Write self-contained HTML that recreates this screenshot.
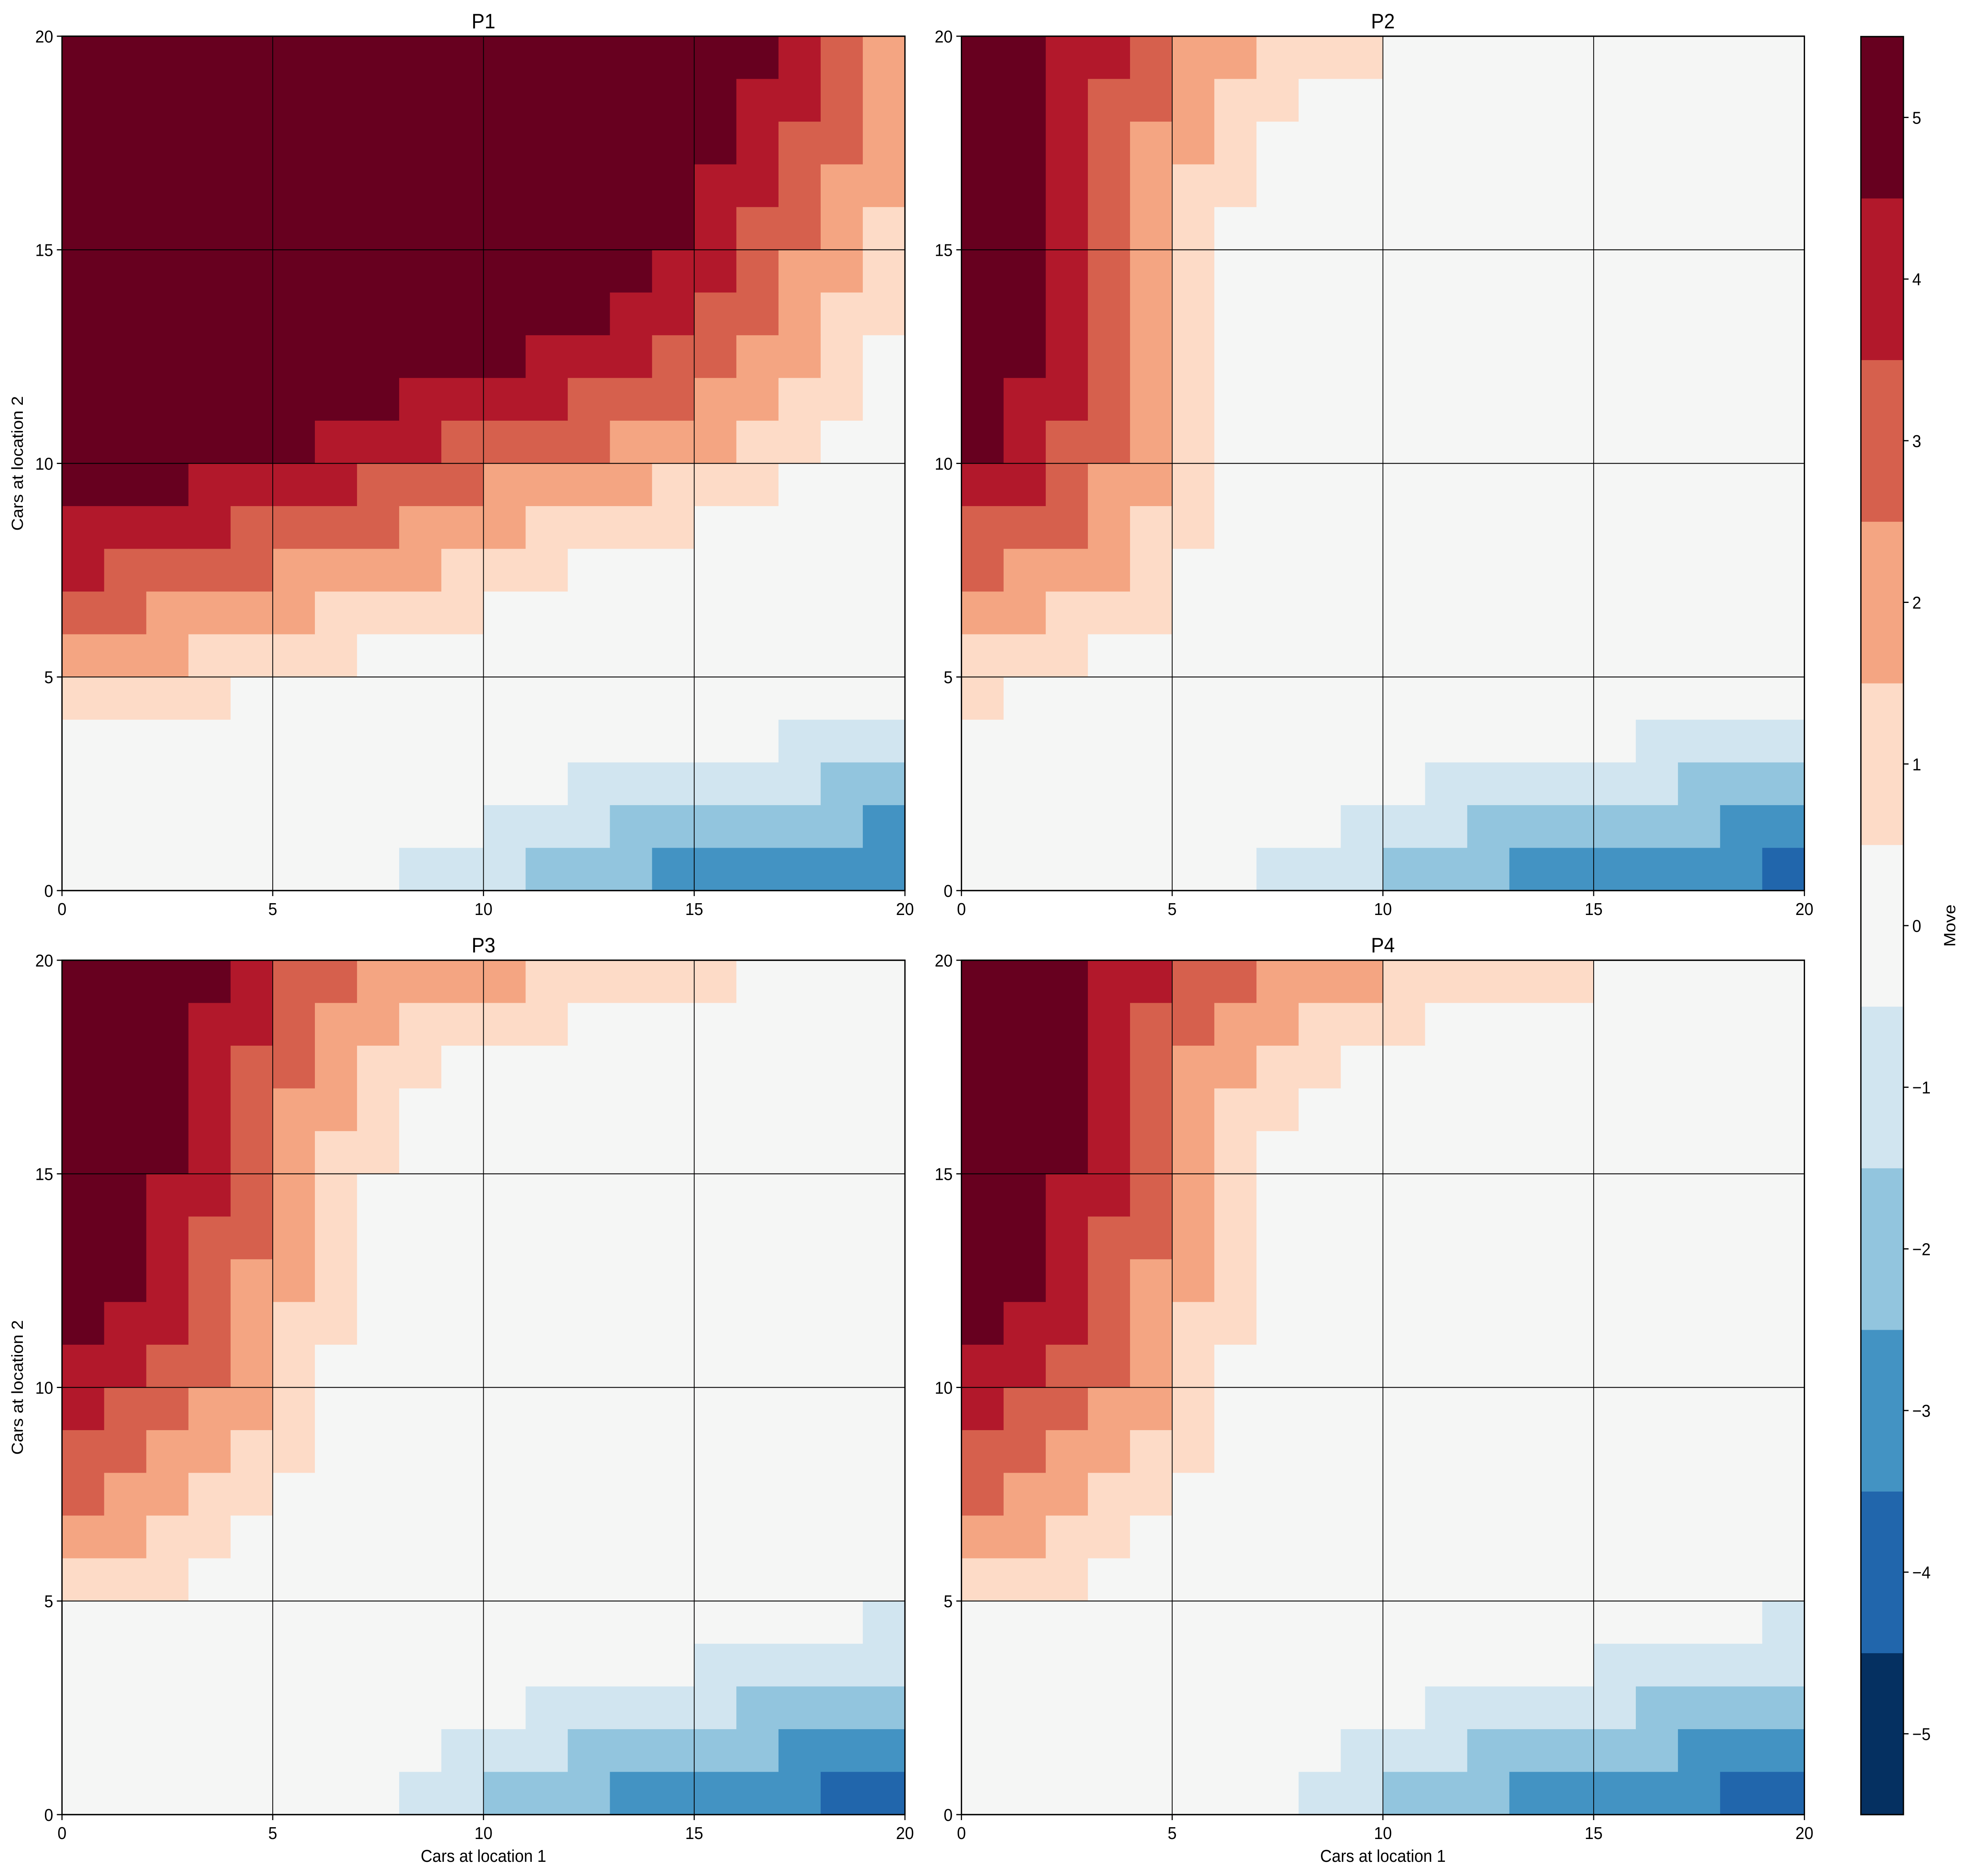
<!DOCTYPE html>
<html>
<head>
<meta charset="utf-8">
<style>
html,body{margin:0;padding:0;background:#fff;width:100%;height:100%;overflow:hidden;}
svg{display:block;position:fixed;left:0;top:0;width:100vw;height:100vh;font-family:"Liberation Sans","DejaVu Sans",sans-serif;}
</style>
</head>
<body>
<svg id="fig" viewBox="0 0 5365 4767" preserveAspectRatio="none" xmlns="http://www.w3.org/2000/svg"></svg>
<script>
// ---- data (rows listed from top y=19 down to y=0; "v*n" = value v repeated n times) ----
const panelTitles = ["P1","P2","P3","P4"];
const xTicks = [0,5,10,15,20];
const yTicks = [0,5,10,15,20];
const cbTicks = [-5,-4,-3,-2,-1,0,1,2,3,4,5];
const p1Rows = [
"5*17,4,3,2","5*16,4*2,3,2","5*16,4,3*2,2","5*15,4*2,3,2*2","5*15,4,3*2,2,1",
"5*14,4*2,3,2*2,1","5*13,4*2,3*2,2,1*2","5*11,4*3,3*2,2*2,1,0","5*8,4*4,3*3,2*2,1*2,0","5*6,4*3,3*4,2*3,1*2,0*2",
"5*3,4*4,3*3,2*4,1*3,0*3","4*4,3*4,2*3,1*4,0*5","4,3*4,2*4,1*3,0*8","3*2,2*4,1*4,0*10","2*3,1*4,0*13",
"1*4,0*16","0*17,-1*3","0*12,-1*6,-2*2","0*10,-1*3,-2*6,-3","0*8,-1*3,-2*3,-3*6"];
const p2Rows = [
"5*2,4*2,3,2*2,1*3,0*10","5*2,4,3*2,2,1*2,0*12","5*2,4,3,2*2,1,0*13","5*2,4,3,2,1*2,0*13","5*2,4,3,2,1,0*14",
"5*2,4,3,2,1,0*14","5*2,4,3,2,1,0*14","5*2,4,3,2,1,0*14","5,4*2,3,2,1,0*14","5,4,3*2,2,1,0*14",
"4*2,3,2*2,1,0*14","3*3,2,1*2,0*14","3,2*3,1,0*15","2*2,1*3,0*15","1*3,0*17",
"1,0*19","0*16,-1*4","0*11,-1*6,-2*3","0*9,-1*3,-2*6,-3*2","0*7,-1*3,-2*3,-3*6,-4"];
const p3Rows = [
"5*4,4,3*2,2*4,1*5,0*4","5*3,4*2,3,2*2,1*4,0*8","5*3,4,3*2,2,1*2,0*11","5*3,4,3,2*2,1,0*12","5*3,4,3,2,1*2,0*12",
"5*2,4*2,3,2,1,0*13","5*2,4,3*2,2,1,0*13","5*2,4,3,2*2,1,0*13","5,4*2,3,2,1*2,0*13","4*2,3*2,2,1,0*14",
"4,3*2,2*2,1,0*14","3*2,2*2,1*2,0*14","3,2*2,1*2,0*15","2*2,1*2,0*16","1*3,0*17",
"0*19,-1","0*15,-1*5","0*11,-1*5,-2*4","0*9,-1*3,-2*5,-3*3","0*8,-1*2,-2*3,-3*5,-4*2"];
const p4Rows = [
"5*3,4*2,3*2,2*3,1*5,0*5","5*3,4,3*2,2*2,1*3,0*9","5*3,4,3,2*2,1*2,0*11","5*3,4,3,2,1*2,0*12","5*3,4,3,2,1,0*13",
"5*2,4*2,3,2,1,0*13","5*2,4,3*2,2,1,0*13","5*2,4,3,2*2,1,0*13","5,4*2,3,2,1*2,0*13","4*2,3*2,2,1,0*14",
"4,3*2,2*2,1,0*14","3*2,2*2,1*2,0*14","3,2*2,1*2,0*15","2*2,1*2,0*16","1*3,0*17",
"0*19,-1","0*15,-1*5","0*11,-1*5,-2*4","0*9,-1*3,-2*5,-3*3","0*8,-1*2,-2*3,-3*5,-4*2"];
const allRows = [p1Rows,p2Rows,p3Rows,p4Rows];

// ---- styling / layout ----
const colors = {"-5":"#053061","-4":"#2166ac","-3":"#4393c3","-2":"#92c5de","-1":"#d1e5f0","0":"#f5f6f5","1":"#fddbc7","2":"#f4a582","3":"#d6604d","4":"#b2182b","5":"#67001f"};
const panels = [
  {x0:169,x1:2467,y0:92,y1:2263},
  {x0:2621,x1:4919,y0:92,y1:2263},
  {x0:169,x1:2467,y0:2440,y1:4611},
  {x0:2621,x1:4919,y0:2440,y1:4611}];
const NS="http://www.w3.org/2000/svg";
const svg=document.getElementById('fig');
function mk(tag,attrs,parent){const e=document.createElementNS(NS,tag);for(const k in attrs)e.setAttribute(k,attrs[k]);(parent||svg).appendChild(e);return e;}
function parseRow(s){const out=[];s.split(',').forEach(t=>{const p=t.split('*');const v=+p[0];const n=p.length>1?+p[1]:1;for(let i=0;i<n;i++)out.push(v);});return out;}
function fmt(v){return v<0?'\u2212'+Math.abs(v):String(v);}

panels.forEach((P,pi)=>{
  const g=mk('g',{});
  
  
  const sx=v=>P.x0+(P.x1-P.x0)*v/20;
  const sy=v=>P.y1-(P.y1-P.y0)*v/20;
  const rows=allRows[pi];
  rows.forEach((rs,ri)=>{
    const yIdx=19-ri;
    const vals=parseRow(rs);
    vals.forEach((v,xi)=>{
      const r=mk('rect',{x:sx(xi),y:sy(yIdx+1),width:sx(xi+1)-sx(xi)+0.6,height:sy(yIdx)-sy(yIdx+1)+0.6,fill:colors[String(v)]},g);
      
      
    });
  });
  [5,10,15].forEach(t=>{
    const l1=mk('line',{x1:sx(t),x2:sx(t),y1:P.y0,y2:P.y1,stroke:'#000','stroke-width':2.2},g);
    
    
    const l2=mk('line',{x1:P.x0,x2:P.x1,y1:sy(t),y2:sy(t),stroke:'#000','stroke-width':2.2},g);
    
    
  });
  const fr=mk('rect',{x:P.x0,y:P.y0,width:P.x1-P.x0,height:P.y1-P.y0,fill:'none',stroke:'#000','stroke-width':3.5},g);
  
  
  xTicks.forEach(t=>{
    mk('line',{x1:sx(t),x2:sx(t),y1:P.y1,y2:P.y1+14,stroke:'#000','stroke-width':3},g);
    const tx=mk('text',{x:sx(t),y:P.y1+62,'font-size':44,'text-anchor':'middle',fill:'#000'},g);
    tx.textContent=t;
    
    
  });
  yTicks.forEach(t=>{
    mk('line',{x1:P.x0-14,x2:P.x0,y1:sy(t),y2:sy(t),stroke:'#000','stroke-width':3},g);
    const tx=mk('text',{x:P.x0-24,y:sy(t)+16,'font-size':44,'text-anchor':'end',fill:'#000'},g);
    tx.textContent=t;
    
    
  });
  const tt=mk('text',{x:(P.x0+P.x1)/2,y:P.y0-20,'font-size':53,'text-anchor':'middle',fill:'#000'},g);
  tt.textContent=panelTitles[pi];
  
  
  if(pi>=2){
    const xl=mk('text',{x:(P.x0+P.x1)/2,y:P.y1+120,'font-size':44,'text-anchor':'middle',fill:'#000'},g);
    xl.textContent='Cars at location 1';
    
    
  }
  if(pi%2===0){
    const cy=(P.y0+P.y1)/2;
    const yl=mk('text',{x:62,y:cy,'font-size':44,'text-anchor':'middle',fill:'#000',transform:'rotate(-90 62 '+cy+')'},g);
    yl.textContent='Cars at location 2';
    
    
  }
});

// ---- colorbar ----
const CB={x0:5073,x1:5189,y0:93,y1:4611};
const cg=mk('g',{});


const cy=v=>CB.y1-(CB.y1-CB.y0)*(v+5.5)/11;
cbTicks.forEach(v=>{
  const r=mk('rect',{x:CB.x0,y:cy(v+0.5),width:CB.x1-CB.x0,height:cy(v-0.5)-cy(v+0.5)+0.6,fill:colors[String(v)]},cg);
  
  
});
mk('rect',{x:CB.x0,y:CB.y0,width:CB.x1-CB.x0,height:CB.y1-CB.y0,fill:'none',stroke:'#000','stroke-width':3.5},cg);
cbTicks.forEach(v=>{
  mk('line',{x1:CB.x1,x2:CB.x1+14,y1:cy(v),y2:cy(v),stroke:'#000','stroke-width':3},cg);
  const t=mk('text',{x:CB.x1+24,y:cy(v)+16,'font-size':44,fill:'#000'},cg);
  t.textContent=fmt(v);
  
  
});
const ml=mk('text',{x:5330,y:2352,'font-size':44,'text-anchor':'middle',fill:'#000',transform:'rotate(-90 5330 2352)'},cg);
ml.textContent='Move';


</script>
</body>
</html>
